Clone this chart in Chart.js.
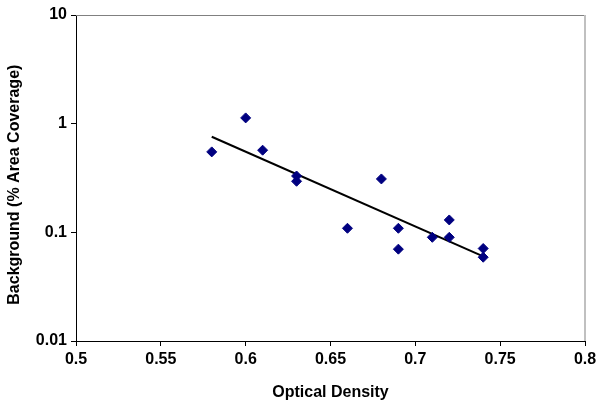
<!DOCTYPE html>
<html>
<head>
<meta charset="utf-8">
<script src="https://cdn.jsdelivr.net/npm/chart.js@4.4.0/dist/chart.umd.min.js"></script>
<style>
  html, body { margin: 0; padding: 0; background: #fff; }
  canvas { display: block; }
</style>
</head>
<body>
<canvas id="chart" width="597" height="404"></canvas>
<script>
// measured points
const opticalDensity = [0.58, 0.60, 0.61, 0.63, 0.63, 0.66, 0.68, 0.69, 0.69, 0.71, 0.72, 0.72, 0.74, 0.74];
const background = [0.55, 1.13, 0.57, 0.33, 0.295, 0.109, 0.31, 0.109, 0.07, 0.09, 0.13, 0.09, 0.071, 0.059];

// exponential trendline, endpoints
const trendX = [0.58, 0.74];
const trendY = [0.758, 0.06];

const yTicks = [0.01, 0.1, 1, 10];

const font = { family: '"Liberation Sans", Arial, sans-serif', size: 16, weight: 'bold' };

// Excel style plot frame: grey top, light grey right
const frame = {
  id: 'frame',
  beforeDatasetsDraw(chart) {
    const { ctx, chartArea: a } = chart;
    ctx.save();
    ctx.strokeStyle = '#808080';
    ctx.lineWidth = 1;
    ctx.beginPath();
    ctx.moveTo(a.left, a.top + 0.5);
    ctx.lineTo(a.right, a.top + 0.5);
    ctx.stroke();
    ctx.strokeStyle = '#c0c0c0';
    ctx.lineWidth = 2;
    ctx.beginPath();
    ctx.moveTo(a.right, a.top);
    ctx.lineTo(a.right, a.bottom);
    ctx.stroke();
    ctx.restore();
  }
};

new Chart(document.getElementById('chart'), {
  type: 'scatter',
  data: {
    datasets: [
      {
        label: 'Background',
        data: opticalDensity.map((x, i) => ({ x, y: background[i] })),
        pointStyle: 'rectRot',
        pointRadius: 5,
        pointHoverRadius: 5,
        backgroundColor: '#000080',
        borderColor: '#000080',
        borderWidth: 1
      },
      {
        label: 'Trend',
        type: 'line',
        data: trendX.map((x, i) => ({ x, y: trendY[i] })),
        borderColor: '#000',
        borderWidth: 2,
        pointRadius: 0,
        fill: false
      }
    ]
  },
  options: {
    responsive: false,
    animation: false,
    layout: { padding: { left: 4, right: 12, top: 15, bottom: 2 } },
    plugins: { legend: { display: false }, tooltip: { enabled: false } },
    scales: {
      x: {
        type: 'linear',
        min: 0.5,
        max: 0.8,
        afterFit: s => { s.height = 61; s.paddingLeft = 0; s.paddingRight = 0; },
        ticks: {
          stepSize: 0.05,
          color: '#000',
          font,
          padding: 4,
          maxRotation: 0,
          callback: v => Number(v.toFixed(2)).toString()
        },
        grid: { drawOnChartArea: false, drawTicks: true, tickLength: 5, color: '#000' },
        border: { color: '#000', width: 1 },
        title: { display: true, text: 'Optical Density', color: '#000', font, padding: { top: 0, bottom: 0 } }
      },
      y: {
        type: 'logarithmic',
        min: 0.01,
        max: 10,
        afterFit: s => { s.width = 72; s.paddingTop = 0; s.paddingBottom = 0; },
        afterBuildTicks: s => { s.ticks = yTicks.map(v => ({ value: v })); },
        ticks: {
          color: '#000',
          font,
          padding: 4,
          callback: v => String(v)
        },
        grid: { drawOnChartArea: false, drawTicks: true, tickLength: 5, color: '#000' },
        border: { color: '#000', width: 1 },
        // trailing nbsp nudges the rotated title a bit lower, as in the original
        title: { display: true, text: 'Background (% Area Coverage)\u00a0\u00a0\u00a0', color: '#000', font, padding: { top: 1, bottom: 0 } }
      }
    }
  },
  plugins: [frame]
});
</script>
</body>
</html>
